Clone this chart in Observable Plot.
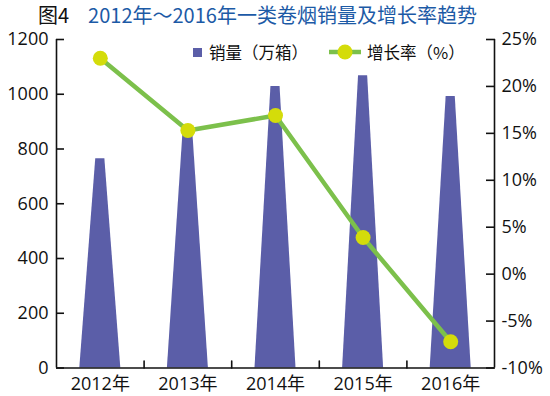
<!DOCTYPE html>
<html>
<head>
<meta charset="utf-8">
<script src="https://cdn.jsdelivr.net/npm/d3@7"></script>
<script src="https://cdn.jsdelivr.net/npm/@observablehq/plot@0.6"></script>
<style>
  html, body { margin: 0; padding: 0; background: #fff; }
  #wrap { position: relative; width: 550px; height: 396px; overflow: hidden; font-family: "Open Sans", "Noto Sans CJK SC", sans-serif; }
  #title { position: absolute; left: 38px; top: 0; height: 30px; line-height: 30px; font-size: 20px; white-space: nowrap; font-family: "Noto Sans CJK SC", sans-serif; }
  #title .fig { color: #111; }
  #title .main { color: #1c5aa6; margin-left: 19px; }
  #chart { position: absolute; left: 0; top: 22px; }
  .leg { position: absolute; font-family: "Noto Sans CJK SC", sans-serif; font-size: 16.5px; line-height: 20px; color: #111; white-space: nowrap; }
</style>
</head>
<body>
<div id="wrap">
  <div id="title"><span class="fig">图4</span><span class="main">2012年～2016年一类卷烟销量及增长率趋势</span></div>
  <div id="chart"></div>
  <div id="legend"></div>
</div>
<script>
// ---- data ----
const years = ["2012年", "2013年", "2014年", "2015年", "2016年"];
const sales = [764, 880, 1028, 1068, 992];          // 销量（万箱）
const growth = [23.0, 15.3, 16.9, 3.9, -7.2];        // 增长率（%）
const salesTicks = [0, 200, 400, 600, 800, 1000, 1200];
const growthTicks = [-10, -5, 0, 5, 10, 15, 20, 25];
const seriesNames = ["销量（万箱）", "增长率（%）"];

// ---- styling ----
const barColor = "#5b5ea8";
const lineColor = "#7cc04b";
const dotColor = "#d4dc0a";

const salesMax = 1200, gMin = -10, gMax = 25;
const toY = p => (p - gMin) / (gMax - gMin) * salesMax;

const halfBottom = 0.234, halfTop = 0.052;
const trap = [];
sales.forEach((v, i) => {
  trap.push({k: i, x: i - halfBottom, y: 0});
  trap.push({k: i, x: i - halfTop, y: v});
  trap.push({k: i, x: i + halfTop, y: v});
  trap.push({k: i, x: i + halfBottom, y: 0});
});
const idx = years.map((_, i) => i);
const boundaries = idx.slice(1).map(i => i - 0.5);
const xDomain = [-0.5, years.length - 0.5];
const lineData = growth.map((g, i) => ({x: i, y: toY(g)}));

const tickShapeUp = { draw(ctx, l) { ctx.moveTo(0, 0); ctx.lineTo(0, -l); } };

const chart = Plot.plot({
  width: 550,
  height: 374,
  marginTop: 17,
  marginBottom: 28.5,
  marginLeft: 56,
  marginRight: 56,
  style: { fontFamily: "'Open Sans', 'Noto Sans CJK SC', sans-serif", fontSize: "18px", color: "#111", background: "transparent" },
  x: { domain: xDomain, axis: null },
  y: { domain: [0, salesMax], axis: null },
  marks: [
    Plot.areaY(trap, { x: "x", y: "y", z: "k", fill: barColor, curve: "linear" }),
    Plot.ruleX([xDomain[0], xDomain[1]], { stroke: "#111", strokeWidth: 1.6 }),
    Plot.ruleY([0], { stroke: "#111", strokeWidth: 1.6 }),
    Plot.axisY({ anchor: "left", ticks: salesTicks, tickSize: -8, tickPadding: 16, strokeWidth: 1.6, tickFormat: d => String(d), label: null }),
    Plot.axisY({ anchor: "right", ticks: growthTicks.map(toY), tickSize: -9, tickPadding: 16, strokeWidth: 1.6,
                 tickFormat: d => Math.round(d / salesMax * (gMax - gMin) + gMin) + "%", label: null }),
    Plot.axisX({ anchor: "bottom", ticks: idx, tickSize: 0, tickPadding: 9, tickFormat: i => years[i], label: null }),
    Plot.vector(boundaries, { x: d => d, y: () => 0, length: 7, rotate: 0, anchor: "start", shape: tickShapeUp, stroke: "#111", strokeWidth: 1.6 }),
    Plot.line(lineData, { x: "x", y: "y", stroke: lineColor, strokeWidth: 4.5 }),
    Plot.dot(lineData, { x: "x", y: "y", r: 7.5, fill: dotColor, stroke: "none" })
  ]
});
document.getElementById("chart").appendChild(chart);

// ---- legend ----
const legend = document.getElementById("legend");
legend.innerHTML = `
  <div style="position:absolute;left:193px;top:48px;width:9px;height:9px;background:${barColor}"></div>
  <div class="leg" style="left:209px;top:42px">${seriesNames[0]}</div>
  <svg style="position:absolute;left:328px;top:44px" width="34" height="16">
    <line x1="1" y1="8" x2="33" y2="8" stroke="${lineColor}" stroke-width="4.5"/>
    <circle cx="17" cy="8" r="7.5" fill="${dotColor}"/>
  </svg>
  <div class="leg" style="left:367px;top:42px">${seriesNames[1]}</div>`;
</script>
</body>
</html>
